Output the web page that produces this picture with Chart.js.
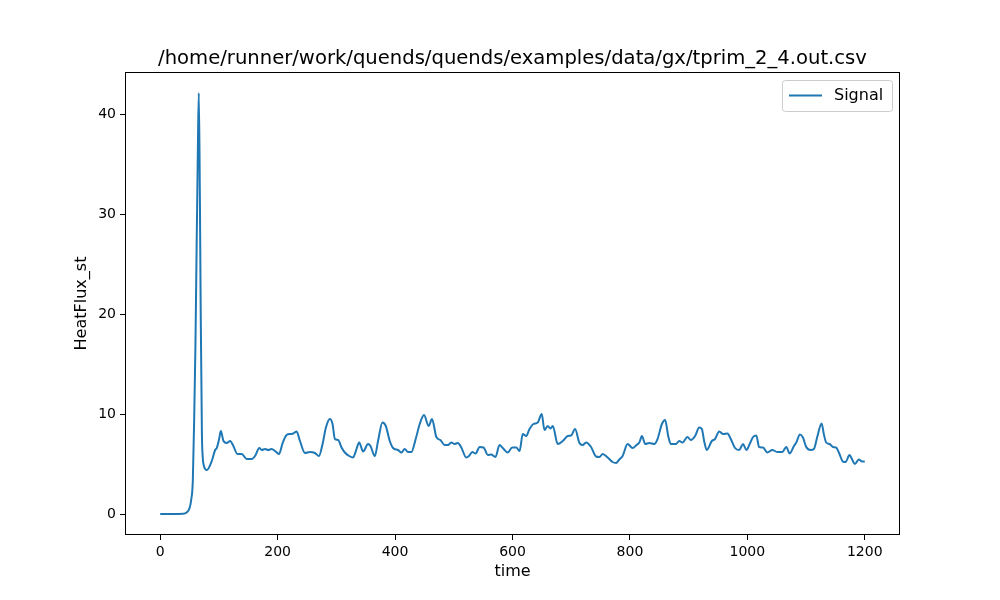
<!DOCTYPE html>
<html>
<head>
<meta charset="utf-8">
<script src="https://cdn.jsdelivr.net/npm/chart.js@4.4.1/dist/chart.umd.min.js"></script>
<style>
  html, body { margin: 0; padding: 0; background: #ffffff; }
  #wrap { width: 1000px; height: 600px; }
</style>
</head>
<body>
<div id="wrap"><canvas id="c" width="1000" height="600"></canvas></div>
<script>
// ---- data ----
const chartTitle = "/home/runner/work/quends/quends/examples/data/gx/tprim_2_4.out.csv";
const seriesName = "Signal";
const xLabel = "time";
const yLabel = "HeatFlux_st";
const xTicks = [0, 200, 400, 600, 800, 1000, 1200];
const yTicks = [0, 10, 20, 30, 40];
const time = [
  0, 20, 39, 45, 50, 53, 55.5, 58, 60, 62, 64, 65.7, 67.5, 69, 71, 72.5, 74, 79.3, 87.8, 93.5,
  96.3, 100, 103.2, 107.7, 113.3, 119, 124.6, 131.4, 138.8, 147.3, 155.8, 161.5, 168.8, 172.8, 178.5, 184,
  189.8, 195.5, 202.3, 208.5, 215.3, 222.1, 226.6, 232.3, 238, 246.5, 255, 263.5, 270.3, 276.5, 282.2, 289,
  293.5, 297.5, 303, 308.8, 314.5, 321.8, 328.6, 333.2, 338.8, 345.6, 354, 358.1, 365.5, 371, 378.5, 384.2,
  391, 396.6, 405, 410.8, 416.5, 422, 427.8, 435.1, 442, 449.3, 457.2, 462.9, 470.3, 477.1, 484.4, 490,
  495.8, 501.4, 507, 512.8, 521.3, 525.8, 531.5, 537.1, 544, 550.7, 558, 563.6, 571, 577.9, 583.5, 592,
  599.5, 606.3, 612, 617.5, 623.3, 629, 635.7, 643, 649.8, 654.4, 660, 664.6, 668.6, 677, 685.5, 694,
  699.8, 706.6, 714, 719.6, 725.3, 733.8, 742.3, 748, 753.6, 762.1, 770.5, 776.3, 782, 787.5, 796, 804.5,
  811.3, 816, 820.5, 826, 833, 841.4, 847, 854.5, 860, 865.2, 869.8, 878.3, 884, 889.5, 898, 903.8,
  911, 918, 922.5, 926.4, 931, 939.5, 945, 952, 958.7, 966, 971.8, 979, 986, 992.7, 998.3, 1004,
  1009.7, 1015.3, 1020, 1026.7, 1034, 1042.5, 1051, 1059.5, 1066.3, 1072, 1079.4, 1083.3, 1089.6, 1094.7, 1100.3, 1107.8,
  1113.4, 1119, 1126.5, 1130.4, 1134.3, 1140, 1145.7, 1151.3, 1155.9, 1162.7, 1167.3, 1174, 1178.5, 1183.1, 1189.9, 1195.5,
  1200
];
const heatFlux = [
  0, 0, 0.02, 0.15, 0.6, 1.5, 3.3, 10, 17, 26.7, 36, 42.1, 32, 20, 8, 5.6, 4.9, 4.4, 5.3, 6.4,
  6.6, 7.4, 8.3, 7.3, 7.1, 7.3, 6.8, 6.0, 6.0, 5.5, 5.5, 5.8, 6.6, 6.4, 6.5, 6.4,
  6.5, 6.3, 6.0, 7.1, 7.9, 8.0, 8.05, 8.25, 7.3, 6.1, 6.2, 6.1, 5.8, 7.0, 8.65, 9.5,
  9.0, 7.5, 7.4, 6.65, 6.15, 5.8, 5.65, 6.3, 7.15, 6.25, 7.0, 6.8, 5.8, 7.3, 9.15, 8.8,
  7.3, 6.6, 6.4, 6.15, 6.5, 6.2, 6.2, 7.5, 9.0, 9.9, 8.8, 9.5, 7.7, 7.4, 6.9, 6.9,
  7.15, 7.0, 7.1, 6.65, 5.65, 5.8, 6.2, 6.05, 6.7, 6.65, 5.9, 5.95, 5.7, 6.9, 6.6, 6.15,
  6.65, 6.65, 6.3, 8.0, 7.8, 8.5, 9.0, 9.15, 10.0, 8.4, 8.8, 8.55, 8.8, 7.0, 7.3, 7.8,
  7.85, 8.5, 7.1, 6.9, 7.15, 6.7, 5.75, 5.7, 6.0, 5.65, 5.2, 5.1, 5.45, 5.8, 7.0, 6.6,
  6.9, 7.15, 7.8, 7.0, 7.1, 7.0, 7.5, 9.0, 9.4, 7.8, 7.0, 7.0, 7.3, 7.15, 7.7, 7.4,
  7.8, 8.65, 8.5, 7.3, 6.4, 7.3, 7.5, 8.25, 8.0, 8.05, 7.5, 6.6, 6.4, 7.0, 6.4, 7.0,
  7.7, 7.85, 6.7, 6.65, 6.15, 6.4, 6.2, 6.2, 6.7, 6.05, 6.8, 7.15, 7.95, 7.65, 6.7, 6.4,
  6.5, 7.7, 9.05, 7.95, 7.15, 7.0, 6.7, 6.65, 6.15, 5.25, 5.2, 5.9, 5.45, 5.0, 5.45, 5.25,
  5.25
];

const FONT = "'DejaVu Sans', sans-serif";
const LINE_COLOR = '#1f77b4';

const points = time.map((t, i) => ({ x: t, y: heatFlux[i] }));

// frame (all four spines) drawn around the chart area
const framePlugin = {
  id: 'frame',
  afterDraw(chart) {
    const { ctx, chartArea: a } = chart;
    ctx.save();
    ctx.strokeStyle = '#000';
    ctx.lineWidth = 1;
    ctx.strokeRect(Math.round(a.left) + 0.5, Math.round(a.top) + 0.5,
                   Math.round(a.right - a.left) - 1, Math.round(a.bottom - a.top) - 1);
    ctx.restore();
  }
};

// matplotlib-like legend box in upper right of the axes
const legendPlugin = {
  id: 'mplLegend',
  afterDraw(chart) {
    const { ctx, chartArea: a } = chart;
    const ds = chart.data.datasets[0];
    const w = 110, h = 31;
    const x = a.right - 8 - w, y = a.top + 8;
    ctx.save();
    ctx.fillStyle = 'rgba(255,255,255,0.8)';
    ctx.strokeStyle = '#cccccc';
    ctx.lineWidth = 1;
    ctx.beginPath();
    ctx.roundRect(x + 0.5, y + 0.5, w, h, 3);
    ctx.fill();
    ctx.stroke();
    ctx.strokeStyle = ds.borderColor;
    ctx.lineWidth = 2;
    ctx.beginPath();
    ctx.moveTo(x + 7, y + 15.5);
    ctx.lineTo(x + 40, y + 15.5);
    ctx.stroke();
    ctx.fillStyle = '#000';
    ctx.font = '16px ' + FONT;
    ctx.textBaseline = 'middle';
    ctx.textAlign = 'left';
    ctx.fillText(ds.label, x + 52, y + 16);
    ctx.restore();
  }
};

new Chart(document.getElementById('c'), {
  type: 'line',
  data: {
    datasets: [{
      label: seriesName,
      data: points,
      borderColor: LINE_COLOR,
      backgroundColor: LINE_COLOR,
      borderWidth: 2,
      pointRadius: 0,
      fill: false,
      cubicInterpolationMode: 'monotone'
    }]
  },
  options: {
    responsive: false,
    animation: false,
    devicePixelRatio: 1,
    layout: { padding: { left: 25, right: 0, top: 0, bottom: 0 } },
    plugins: {
      legend: { display: false },
      tooltip: { enabled: false },
      title: {
        display: true,
        text: chartTitle,
        color: '#000',
        font: { family: FONT, size: 19.6, weight: 'normal', lineHeight: 1.2 },
        padding: { top: 47, bottom: 1.5 }
      }
    },
    scales: {
      x: {
        type: 'linear',
        position: 'bottom',
        min: -60,
        max: 1260,
        afterBuildTicks: (s) => { s.ticks = xTicks.map(v => ({ value: v })); },
        afterFit: (s) => { s.height = 65; },
        ticks: {
          color: '#000',
          font: { family: FONT, size: 14 },
          padding: 4,
          maxRotation: 0,
          autoSkip: false,
          callback: (v) => String(v)
        },
        grid: {
          drawOnChartArea: false,
          drawTicks: true,
          tickLength: 5,
          color: '#000',
          tickColor: '#000',
          lineWidth: 1
        },
        border: { display: false },
        title: {
          display: true,
          text: xLabel,
          color: '#000',
          font: { family: FONT, size: 16, lineHeight: 1.2 },
          padding: { top: 0, bottom: 18.4 }
        }
      },
      y: {
        type: 'linear',
        position: 'left',
        min: -2.1,
        max: 44.2,
        afterBuildTicks: (s) => { s.ticks = yTicks.map(v => ({ value: v })); },
        afterFit: (s) => { s.width = 100; },
        ticks: {
          color: '#000',
          font: { family: FONT, size: 14 },
          padding: 4,
          autoSkip: false,
          callback: (v) => String(v)
        },
        grid: {
          drawOnChartArea: false,
          drawTicks: true,
          tickLength: 5,
          color: '#000',
          tickColor: '#000',
          lineWidth: 1
        },
        border: { display: false },
        title: {
          display: true,
          text: yLabel,
          color: '#000',
          font: { family: FONT, size: 16, lineHeight: 1.2 },
          padding: { top: 47.4, bottom: 0 }
        }
      },
      yRight: {
        type: 'linear',
        position: 'right',
        display: true,
        afterFit: (s) => { s.width = 100; },
        ticks: { display: false },
        grid: { display: false, drawTicks: false },
        border: { display: false }
      }
    }
  },
  plugins: [framePlugin, legendPlugin]
});
</script>
</body>
</html>
